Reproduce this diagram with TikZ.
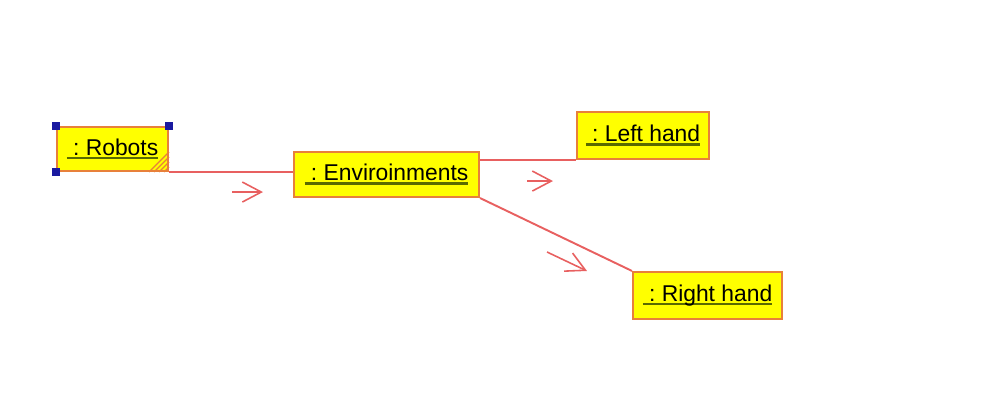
\documentclass[tikz,border=0pt]{standalone}
\usepackage{fontspec}
\setmainfont{Liberation Sans}
\usetikzlibrary{arrows.meta,calc}

\definecolor{objfill}{HTML}{FFFF00}
\definecolor{objline}{HTML}{E8803A}
\definecolor{linkred}{HTML}{E86060}
\definecolor{ulgreen}{HTML}{5A6A00}
\definecolor{handle}{HTML}{1A1AA0}

% underlined object name, underline in its own colour
\newcommand\objname[1]{\setbox0\hbox{#1}\rlap{\color{ulgreen}\rule[-2.2pt]{\wd0}{1.4pt}}\box0}

\tikzset{
  object/.style={draw=objline, fill=objfill, line width=1.2pt, inner sep=0pt,
    font=\fontsize{13}{15}\selectfont},
  link/.style={draw=linkred, line width=1.1pt},
  message/.style={draw=linkred, line width=0.9pt,
    -{Straight Barb[length=0.38cm, width=0.4cm]}},
}

\begin{document}
\begin{tikzpicture}[x=0.02cm, y=-0.02cm]
  \useasboundingbox (0,0) rectangle (997,401);

  \node[object, minimum width=111*0.02cm, minimum height=44*0.02cm] (robots) at (112.5,149) {\objname{\ :\ Robots}};
  \node[object, minimum width=185*0.02cm, minimum height=45*0.02cm] (env) at (386.5,174.5) {\objname{\ :\ Enviroinments}};
  \node[object, minimum width=132*0.02cm, minimum height=47*0.02cm] (lefth) at (643,135.5) {\objname{\ :\ Left hand}};
  \node[object, minimum width=149*0.02cm, minimum height=47*0.02cm] (righth) at (707.5,295.5) {\objname{\ :\ Right hand}};

  % selection handles and hatched corner
  \foreach \c in {north west, north east, south west}
    \fill[handle] ($(robots.\c)+(-4,-4)$) rectangle ++(8,8);
  \foreach \d in {5,10,15,20}
    \draw[objline, line width=0.7pt] ($(robots.south east)+(-\d,0)$) -- ($(robots.south east)+(0,-\d)$);

  % links
  \draw[link] (robots.south east) -- (env.west |- robots.south east);
  \draw[link] (env.east |- lefth.south) -- (lefth.south west);
  \draw[link] (env.south east) -- (righth.north west);

  % messages
  \coordinate (m1) at ($(robots.south east)!0.5!(env.west |- robots.south east)$);
  \coordinate (m2) at ($(env.east |- lefth.south)!0.5!(lefth.south west)$);
  \coordinate (m3) at ($(env.south east)!0.5!(righth.north west)$);
  \draw[message] ($(m1)+(1,20)$) -- ($(m1)+(32,20)$);
  \draw[message] ($(m2)+(-1,21)$) -- ($(m2)+(25,21)$);
  \draw[message] ($(m3)+(-9,17.5)$) -- ($(m3)+(31,36.5)$);
\end{tikzpicture}
\end{document}
